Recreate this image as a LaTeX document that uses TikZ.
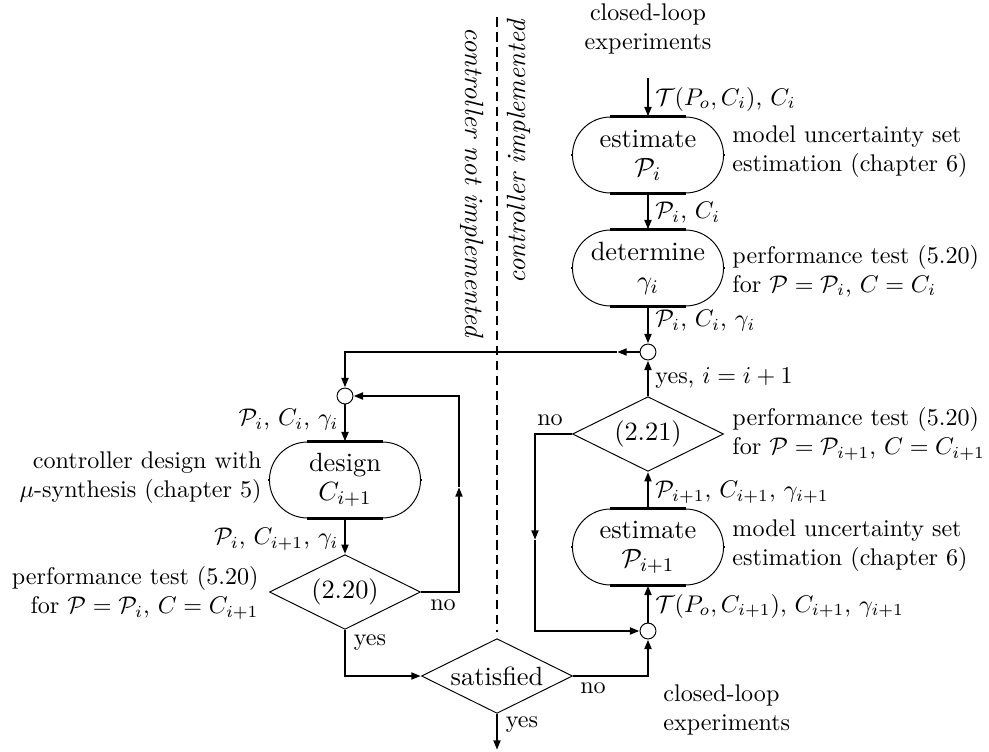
\documentclass[tikz,border=0pt]{standalone}
\usetikzlibrary{shapes.misc,shapes.geometric,arrows.meta,calc}
\begin{document}
\begin{tikzpicture}[x=0.415pt,y=-0.415pt,
  bigfont/.style={font=\fontsize{10.95}{12}\selectfont},
  box/.style={rounded rectangle, draw, line width=0.4pt, minimum width=62.7pt, minimum height=31.5pt, inner sep=0pt, align=center, bigfont},
  dia/.style={diamond, draw, line width=0.4pt, shape aspect=2, minimum width=62.7pt, minimum height=31pt, inner sep=0pt, bigfont},
  circ/.style={circle, draw, line width=0.4pt, minimum size=6.6pt, inner sep=0pt},
  conn/.style={line width=1.1pt},
  arr/.style={-{Triangle[length=4pt,width=2.8pt]}},
  thk/.style={line width=1.5pt},
  tickmark/.style={line width=1.2pt},
  lab/.style={inner sep=0pt, align=left},
  labr/.style={inner sep=0pt, align=right, anchor=east},
  rotfont/.style={inner sep=0pt, font=\fontsize{10.95}{12}\selectfont\itshape},
]
\useasboundingbox (0,0) rectangle (989,751);

% main nodes
\node[box] (e1) at (648,155) {estimate\\$\mathcal{P}_i$};
\node[box] (det) at (648,268) {determine\\$\gamma_i$};
\node[circ] (c1) at (648,352) {};
\node[dia] (d21) at (648,434) {(2.21)};
\node[box] (e2) at (648,547) {estimate\\$\mathcal{P}_{i+1}$};
\node[circ] (c3) at (648,631) {};
\node[dia] (sat) at (497,676) {satisfied};
\node[circ] (c2) at (345,396) {};
\node[box] (des) at (345,480) {design\\$C_{i+1}$};
\node[dia] (d20) at (345,592) {(2.20)};

% thick straight edges and side ticks of the boxes
\foreach \b in {e1,det,e2,des}{
  \draw[thk] ($(\b.north)+(-38,0)$) -- ($(\b.north)+(38,0)$);
  \draw[thk] ($(\b.south)+(-38,0)$) -- ($(\b.south)+(38,0)$);
  \draw[tickmark] ($(\b.west)+(0,-1)$) -- ($(\b.west)+(0,1)$);
  \draw[tickmark] ($(\b.east)+(0,-1)$) -- ($(\b.east)+(0,1)$);
}

% helper coordinates
\coordinate (top) at (648,78);
\coordinate (k1) at (345,352);
\coordinate (m1) at (617,352);
\coordinate (k2) at (535,434);
\coordinate (m2) at (535,540);
\coordinate (k3) at (535,631);
\coordinate (k4) at (459,592);
\coordinate (m4) at (459,487);
\coordinate (k5) at (459,396);
\coordinate (k6) at (345,676);
\coordinate (k7) at (648,676);
\coordinate (bot) at (497,750);
\coordinate (dt) at (497,17);
\coordinate (db) at (497,632);

% dashed separator
\draw[line width=1pt, dash pattern=on 4pt off 2.2pt] (dt) -- (db);

% connectors
\draw[conn,arr] (top) -- (e1.north);
\draw[conn,arr] (e1.south) -- (det.north);
\draw[conn,arr] (det.south) -- (c1.north);
\draw[conn,arr] (d21.north) -- (c1.south);
\draw[conn,arr] (e2.north) -- (d21.south);
\draw[conn,arr] (c3.north) -- (e2.south);
\draw[conn,arr] (c1.west) -- (m1);
\draw[conn,arr] (m1) -- (k1) -- (c2.north);
\draw[conn,arr] (c2.south) -- (des.north);
\draw[conn,arr] (des.south) -- (d20.north);
\draw[conn,arr] (d20.east) -- (k4) -- (m4);
\draw[conn,arr] (m4) -- (k5) -- (c2.east);
\draw[conn,arr] (d20.south) -- (k6) -- (sat.west);
\draw[conn,arr] (sat.east) -- (k7) -- (c3.south);
\draw[conn,arr] (d21.west) -- (k2) -- (m2);
\draw[conn,arr] (m2) -- (k3) -- (c3.west);
\draw[conn,arr] (sat.south) -- (bot);

% rotated texts
\node[rotfont, rotate=-90, anchor=west] (tni) at (472,27) {controller not implemented};
\node[rotfont, rotate=90, anchor=east] (ti) at (519,20) {controller implemented};

% top / bottom texts
\node[align=center, inner sep=0pt] (tcl) at (648,29) {closed-loop\\experiments};
\node[align=left, inner sep=0pt, anchor=west] (bcl) at (663,710) {closed-loop\\experiments};

% connector labels right column
\node[lab,anchor=west] (l1) at (655,99) {$\mathcal{T}(P_o,C_i)$, $C_i$};
\node[lab,anchor=west] (l2) at (655,213) {$\mathcal{P}_i$, $C_i$};
\node[lab,anchor=west] (l3) at (655,321) {$\mathcal{P}_i$, $C_i$, $\gamma_i$};
\node[lab,anchor=west] (l4) at (655,378) {yes, $i=i+1$};
\node[lab,anchor=west] (l5) at (655,492) {$\mathcal{P}_{i+1}$, $C_{i+1}$, $\gamma_{i+1}$};
\node[lab,anchor=west] (l6) at (655,606) {$\mathcal{T}(P_o,C_{i+1})$, $C_{i+1}$, $\gamma_{i+1}$};

% annotations right
\node[lab,anchor=west] (a1) at (732,152) {model uncertainty set\\estimation (chapter 6)};
\node[lab,anchor=west] (a2) at (732,271) {performance test (5.20)\\for $\mathcal{P}=\mathcal{P}_i$, $C=C_i$};
\node[lab,anchor=west] (a3) at (732,434) {performance test (5.20)\\for $\mathcal{P}=\mathcal{P}_{i+1}$, $C=C_{i+1}$};
\node[lab,anchor=west] (a4) at (732,546) {model uncertainty set\\estimation (chapter 6)};

% left column labels
\node[labr] (l7) at (339,420) {$\mathcal{P}_i$, $C_i$, $\gamma_i$};
\node[labr] (a5) at (262,478) {controller design with\\$\mu$-synthesis (chapter 5)};
\node[labr] (l8) at (339,539) {$\mathcal{P}_i$, $C_{i+1}$, $\gamma_i$};
\node[labr] (a6) at (259,593) {performance test (5.20)\\for $\mathcal{P}=\mathcal{P}_i$, $C=C_{i+1}$};

% yes / no
\node[inner sep=0pt] (n1) at (550,420) {no};
\node[inner sep=0pt] (n2) at (443,605) {no};
\node[inner sep=0pt] (n3) at (593,688) {no};
\node[inner sep=0pt] (y1) at (370,643) {yes};
\node[inner sep=0pt] (y2) at (522,725) {yes};
\end{tikzpicture}
\end{document}
